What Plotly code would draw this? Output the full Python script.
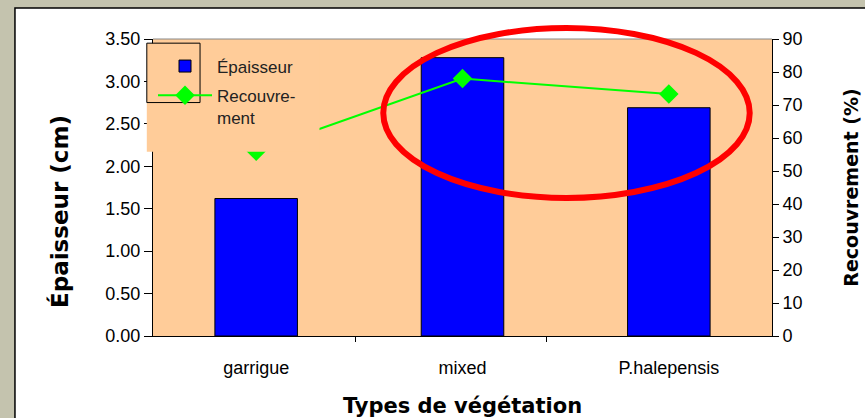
import plotly.graph_objects as go

# data
categories = ["garrigue", "mixed", "P.halepensis"]
epaisseur = [1.62, 3.28, 2.69]      # cm, left axis
recouvrement = [56, 78, 73.3]       # %, right axis

peach = "#FFCC99"
slide_grey = "#c4c3ae"

fig = go.Figure()

fig.add_trace(go.Bar(
    x=categories, y=epaisseur, name="Épaisseur", legendgroup="a",
    width=0.4,
    marker=dict(color="#0000FF", line=dict(color="black", width=1)),
))

fig.add_trace(go.Scatter(
    x=categories, y=recouvrement, name="Recouvre-<br>ment", yaxis="y2", legendgroup="b",
    mode="lines+markers",
    line=dict(color="#00FF00", width=2),
    marker=dict(symbol="diamond", size=15, color="#00FF00"),
))

# extra invisible axis only to carry the odd Excel tick marks on the x line
fig.add_trace(go.Scatter(x=[None], y=[None], xaxis="x3", showlegend=False, hoverinfo="skip"))

tick_font = dict(family="Liberation Sans, Arial", size=18, color="black")

fig.update_layout(
    width=865, height=418,
    margin=dict(l=153, r=93, t=39, b=82, autoexpand=False),
    paper_bgcolor=slide_grey,
    plot_bgcolor=peach,
    showlegend=True,
    legend=dict(
        x=0.0, y=0.968, xanchor="left", yanchor="top",
        bgcolor="rgba(0,0,0,0)", borderwidth=0,
        font=dict(family="Liberation Sans, Arial", size=17, color="#222"),
        itemwidth=54, tracegroupgap=4, valign="top",
    ),
    xaxis=dict(
        range=[-0.5, 2.5], showline=True, linecolor="black", linewidth=1,
        ticks="", tickfont=dict(family="Liberation Sans, Arial", size=18, color="black"),
        ticklabelstandoff=15, automargin=False,
        title=dict(text="<b>Types de végétation</b>",
                   font=dict(family="DejaVu Sans, Arial", size=21, color="black"), standoff=24),
    ),
    xaxis3=dict(
        overlaying="x", anchor="y", range=[-0.5, 2.5],
        tickmode="array", tickvals=[0.479, 1.405],
        ticks="outside", ticklen=5, tickcolor="black",
        showticklabels=False, showline=False, showgrid=False, zeroline=False,
    ),
    yaxis=dict(
        range=[0, 3.5], dtick=0.5, tickformat=".2f", automargin=False,
        showline=True, linecolor="black", linewidth=1,
        ticks="outside", ticklen=8, tickcolor="black",
        showgrid=False, zeroline=False, tickfont=tick_font,
    ),
    yaxis2=dict(
        overlaying="y", side="right", range=[0, 90], dtick=10, automargin=False,
        showline=True, linecolor="black", linewidth=1,
        ticks="outside", ticklen=6, tickcolor="black",
        showgrid=False, zeroline=False, tickfont=tick_font,
        title=dict(text="<b>Recouvrement (%)</b>",
                   font=dict(family="DejaVu Sans, Arial", size=19, color="black"), standoff=43),
    ),
    annotations=[
        # left axis title, sitting a bit below the plot centre as in the original
        dict(text="<b>Épaisseur (cm)</b>", xref="paper", yref="paper", x=-0.150, y=0.418,
             textangle=-90, showarrow=False, xanchor="center", yanchor="middle",
             font=dict(family="DejaVu Sans, Arial", size=23, color="black")),
    ],
    shapes=[
        # white slide panel behind the chart
        dict(type="rect", xref="paper", yref="paper", x0=-0.223, x1=1.2, y0=-0.4, y1=1.104,
             fillcolor="white", line=dict(color="black", width=1.5), layer="below"),
        dict(type="rect", xref="paper", yref="paper", x0=0, x1=1, y0=0, y1=1,
             fillcolor=peach, line=dict(width=0), layer="below"),
        # grey top edge of plot area
        dict(type="line", xref="paper", yref="paper", x0=0, x1=1, y0=1, y1=1,
             line=dict(color="#888", width=1)),
        # opaque legend panel hiding part of the line, as in the original
        dict(type="rect", xref="paper", yref="paper", x0=-0.01, x1=0.269, y0=0.62, y1=0.986,
             fillcolor=peach, line=dict(width=0), layer="above"),
        # border around legend keys
        dict(type="rect", xref="paper", yref="paper", x0=-0.01, x1=0.076, y0=0.786, y1=0.986,
             line=dict(color="black", width=1), layer="above"),
        # red highlight ellipse
        dict(type="circle", xref="paper", yref="paper", x0=0.372, x1=0.964, y0=0.465, y1=1.037,
             line=dict(color="#FF0000", width=6)),
    ],
)

# drop the browser's default 8px page margin so the figure sits at 0,0
fig.write_html("out.html", config={"displayModeBar": False},
               post_script="document.body.style.margin='0';")
